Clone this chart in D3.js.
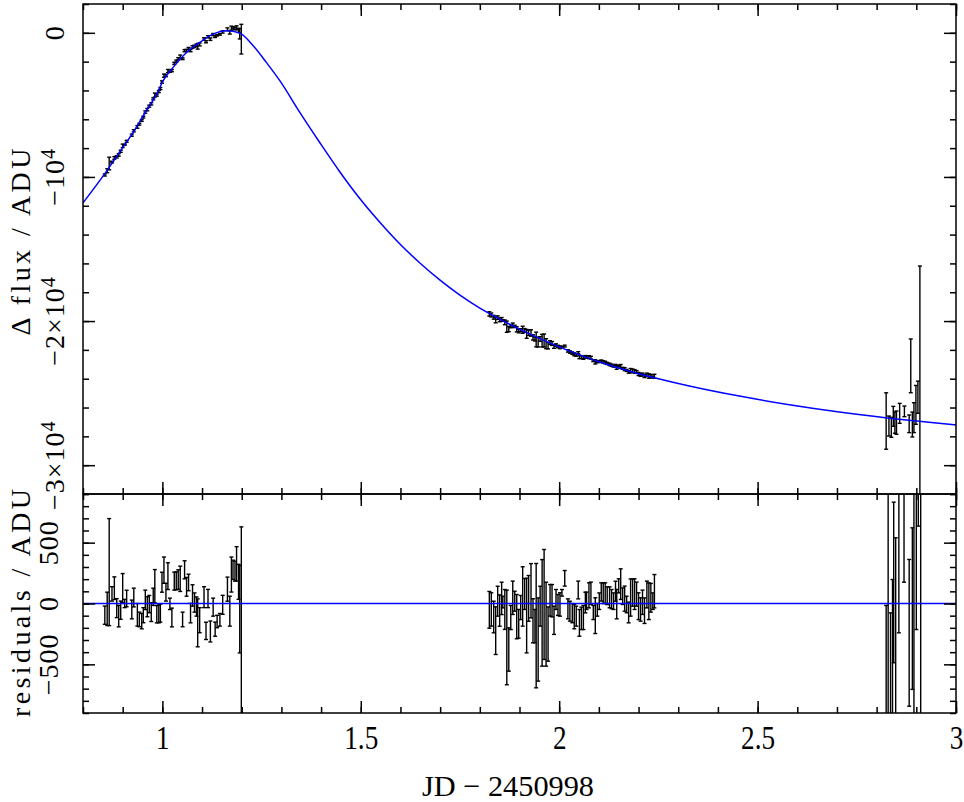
<!DOCTYPE html>
<html>
<head>
<meta charset="utf-8">
<script src="https://d3js.org/d3.v7.min.js"></script>
<style>
  body { margin: 0; background: #fff; }
  svg { display: block; }
</style>
</head>
<body>
<svg id="chart"></svg>
<script>
// Model light curve
const modelJd = [0.8, 0.855, 0.901, 0.927, 0.96, 0.986, 1.002, 1.027, 1.061, 1.094, 1.128, 1.162, 1.195, 1.229, 1.262, 1.296, 1.346, 1.397, 1.447, 1.497, 1.548, 1.598, 1.649, 1.699, 1.749, 1.799, 1.85, 1.9, 1.95, 2.0, 2.05, 2.1, 2.15, 2.2, 2.25, 2.328, 2.454, 2.58, 2.706, 2.831, 2.957, 3.0];
const modelFlux = [-11800, -9767, -7928, -6891, -5391, -4237, -3318, -2398, -1362, -670, -90, 138, -21, -899, -2053, -3318, -5503, -7629, -9638, -11480, -13146, -14636, -15969, -17145, -18184, -19086, -19860, -20560, -21200, -21790, -22330, -22820, -23260, -23650, -24000, -24506, -25207, -25804, -26311, -26736, -27099, -27210];

// First night
const jd1 = [0.855, 0.861, 0.866, 0.873, 0.879, 0.885, 0.890, 0.895, 0.900, 0.905, 0.910, 0.923, 0.928, 0.937, 0.942, 0.948, 0.952, 0.957, 0.962, 0.967, 0.972, 0.977, 0.981, 0.986, 0.991, 0.995, 0.999, 1.004, 1.009, 1.014, 1.019, 1.024, 1.030, 1.035, 1.040, 1.045, 1.051, 1.056, 1.061, 1.066, 1.071, 1.076, 1.081, 1.086, 1.089, 1.094, 1.105, 1.110, 1.115, 1.121, 1.128, 1.133, 1.138, 1.145, 1.152, 1.164, 1.170, 1.174, 1.178, 1.183, 1.187, 1.192, 1.195, 1.199];
const flux1 = [-9863, -9571, -9069, -8968, -8681, -8605, -8471, -8222, -7842, -7768, -7528, -7099, -6797, -6530, -6340, -6081, -5851, -5497, -5329, -5085, -4929, -4581, -4317, -4325, -4075, -3869, -3415, -2970, -2967, -2651, -2695, -2623, -2122, -1964, -1802, -1647, -1798, -1238, -1225, -1084, -1231, -981, -935, -863, -934, -807, -431, -622, -271, -439, -120, -268, -171, -110, 60, 246, 37, 320, 339, 304, 345, 171, -68, -440];
const resid1 = [-96, -44, 258, 79, 126, -38, -104, -55, 126, 0, 41, -49, 49, -93, -131, -145, -96, 30, -27, -5, -71, 55, 142, -88, -85, -79, 175, 274, 93, 225, -3, -115, 184, 186, 197, 203, -131, 277, 137, 173, -79, 66, 8, -25, -159, -137, 52, -225, 41, -230, -30, -211, -148, -134, -11, 118, -63, 238, 277, 266, 326, 178, -47, -400];
const sigma1 = [75, 137, 440, 59, 93, 78, 88, 75, 120, 34, 68, 77, 77, 93, 60, 63, 62, 80, 82, 71, 77, 71, 137, 71, 74, 74, 82, 108, 73, 110, 47, 77, 74, 74, 80, 104, 60, 74, 77, 68, 80, 88, 79, 79, 197, 103, 86, 71, 75, 86, 74, 58, 51, 52, 78, 99, 123, 144, 79, 82, 141, 144, 359, 1030];

// Second night
const jd2 = [1.824, 1.829, 1.835, 1.840, 1.845, 1.850, 1.855, 1.858, 1.863, 1.868, 1.873, 1.878, 1.883, 1.888, 1.893, 1.898, 1.903, 1.908, 1.913, 1.918, 1.923, 1.929, 1.934, 1.939, 1.942, 1.947, 1.952, 1.957, 1.962, 1.967, 1.972, 1.977, 1.982, 1.987, 1.992, 1.997, 2.002, 2.007, 2.014, 2.022, 2.027, 2.033, 2.038, 2.043, 2.048, 2.051, 2.056, 2.061, 2.066, 2.069, 2.075, 2.080, 2.086, 2.091, 2.096, 2.101, 2.106, 2.111, 2.116, 2.121, 2.127, 2.132, 2.137, 2.142, 2.145, 2.150, 2.155, 2.160, 2.165, 2.170, 2.175, 2.180, 2.185, 2.190, 2.195, 2.200, 2.205, 2.210, 2.215, 2.221, 2.226, 2.231, 2.236, 2.240];
const flux2 = [-19506, -19581, -19737, -19927, -19763, -19918, -19888, -19960, -20091, -20391, -20560, -20367, -20275, -20373, -20570, -20699, -20631, -20604, -20648, -20889, -20812, -20826, -21137, -21245, -21280, -21458, -21246, -21360, -21350, -21571, -21711, -21493, -21555, -21775, -21663, -21767, -21820, -21778, -21734, -22072, -22145, -22225, -22308, -22358, -22197, -22499, -22511, -22553, -22479, -22494, -22508, -22540, -22757, -22832, -22833, -22810, -22778, -22832, -22876, -22941, -23007, -23066, -23127, -23089, -23221, -23115, -23140, -23278, -23337, -23424, -23529, -23445, -23443, -23495, -23534, -23672, -23734, -23710, -23814, -23723, -23813, -23820, -23883, -23829];
const resid2 = [-52, -49, -111, -223, 19, -58, 42, 12, -49, -279, -378, -115, 47, 19, -108, -167, -33, 58, 78, -99, 42, 105, -142, -186, -182, -296, -22, -77, -8, -170, -251, 26, 23, -138, 33, -12, -8, 88, 207, -44, -63, -79, -108, -104, 111, -159, -122, -115, 8, 22, 67, 84, -74, -100, -52, 19, 95, 85, 85, 64, 51, 36, 19, 101, -5, 145, 159, 60, 40, -8, -74, 49, 90, 77, 77, -22, -49, 10, -59, 74, 19, 47, 19, 101];
const sigma2 = [151, 137, 130, 196, 123, 129, 133, 48, 164, 389, 178, 99, 137, 82, 182, 118, 99, 244, 127, 307, 188, 223, 181, 137, 511, 342, 164, 438, 452, 345, 223, 130, 133, 116, 82, 86, 96, 27, 64, 82, 82, 79, 100, 82, 73, 110, 92, 99, 85, 71, 103, 92, 58, 147, 52, 68, 75, 85, 85, 73, 86, 79, 68, 82, 121, 58, 126, 68, 103, 68, 85, 153, 112, 126, 99, 110, 96, 100, 105, 110, 151, 118, 68, 137];

// Third night (few, noisy points)
const jd3 = [2.824, 2.831, 2.837, 2.842, 2.846, 2.850, 2.858, 2.870, 2.882, 2.886, 2.890, 2.894, 2.899, 2.904, 2.909];
const flux3 = [-26936, -27282, -27372, -26611, -27047, -27047, -26404, -26266, -27130, -23107, -27178, -26702, -25816, -25284, -24206];
const fluxErr3 = [1958, 691, 691, 691, 737, 806, 691, 369, 611, 1866, 864, 1037, 1348, 1117, 8026];
const jd3r = [2.824, 2.829, 2.835, 2.840, 2.843, 2.848, 2.856, 2.869, 2.882, 2.890, 2.894, 2.900, 2.905, 2.911];
const resid3 = [-1000, 0, -1000, -800, 173, -600, 800, 1000, -241, -42, 0, 900, 1500, 0];
const residErr3 = [984, 1500, 923, 997, 660, 1140, 1041, 825, 603, 664, 2000, 1114, 864, 8000];

// Tick labels
const xTickValues = [1, 1.5, 2, 2.5, 3];
const fluxTickValues = [0, -10000, -20000, -30000];
const fluxTickLabels = [['0', ''], ['\u221210', '4'], ['\u22122\u00d710', '4'], ['\u22123\u00d710', '4']];
const residTickValues = [500, 0, -500];
const residTickLabels = ['500', '0', '\u2212500'];

// Layout
const width = 964;
const height = 802;
const left = 83;
const right = 956;
const top1 = 4;
const bot1 = 494;
const bot2 = 713;
const serif = '"Liberation Serif", "Times New Roman", serif';

const svg = d3.select('#chart')
  .attr('width', width)
  .attr('height', height);

svg.append('rect').attr('width', width).attr('height', height).attr('fill', '#fff');

// Scales
const x = d3.scaleLinear().domain([0.8, 3.0]).range([left, right]);
const yFlux = d3.scaleLinear().domain([-32000, 2000]).range([bot1, top1]);
const yRes = d3.scaleLinear().domain([-900, 900]).range([bot2, bot1]);

const defs = svg.append('defs');
defs.append('clipPath').attr('id', 'clipTop')
  .append('rect').attr('x', left).attr('y', top1).attr('width', right - left).attr('height', bot1 - top1);
defs.append('clipPath').attr('id', 'clipBot')
  .append('rect').attr('x', left).attr('y', bot1).attr('width', right - left).attr('height', bot2 - bot1);

function zipPoints(xs, ys, es) {
  return xs.map((d, i) => ({ x: d, y: ys[i], e: es[i] }));
}

const fluxPoints = [].concat(
  zipPoints(jd1, flux1, sigma1),
  zipPoints(jd2, flux2, sigma2),
  zipPoints(jd3, flux3, fluxErr3)
);
const residPoints = [].concat(
  zipPoints(jd1, resid1, sigma1),
  zipPoints(jd2, resid2, sigma2),
  zipPoints(jd3r, resid3, residErr3)
);

function drawErrorBars(g, points, yScale) {
  const bars = g.selectAll('g.eb')
    .data(points)
    .enter()
    .append('g')
    .attr('class', 'eb')
    .attr('stroke', '#000')
    .attr('stroke-width', 1.4);

  bars.append('line')
    .attr('x1', d => x(d.x)).attr('x2', d => x(d.x))
    .attr('y1', d => yScale(d.y - d.e)).attr('y2', d => yScale(d.y + d.e));
  bars.append('line')
    .attr('x1', d => x(d.x) - 2).attr('x2', d => x(d.x) + 2)
    .attr('y1', d => yScale(d.y + d.e)).attr('y2', d => yScale(d.y + d.e));
  bars.append('line')
    .attr('x1', d => x(d.x) - 2).attr('x2', d => x(d.x) + 2)
    .attr('y1', d => yScale(d.y - d.e)).attr('y2', d => yScale(d.y - d.e));
}

// Top panel: data + model
const topG = svg.append('g').attr('clip-path', 'url(#clipTop)');
drawErrorBars(topG, fluxPoints, yFlux);

const model = modelJd.map((d, i) => ({ x: d, y: modelFlux[i] }));
topG.append('path')
  .datum(model)
  .attr('fill', 'none')
  .attr('stroke', '#0000ff')
  .attr('stroke-width', 1.5)
  .attr('d', d3.line().x(d => x(d.x)).y(d => yFlux(d.y)).curve(d3.curveMonotoneX));

// Bottom panel: residuals
const botG = svg.append('g').attr('clip-path', 'url(#clipBot)');
drawErrorBars(botG, residPoints, yRes);
botG.append('line')
  .attr('x1', x(0.8)).attr('x2', x(3.0))
  .attr('y1', yRes(0)).attr('y2', yRes(0))
  .attr('stroke', '#0000ff')
  .attr('stroke-width', 1.5);

// Ticks on all four sides of a panel
function panelTicks(yScale, yTop, yBot, yMinor, yMajor) {
  const xMinor = d3.range(8, 31).map(i => i / 10);
  const specs = [
    [d3.axisBottom(x).tickValues(xMinor).tickSize(-6), `translate(0,${yBot})`],
    [d3.axisBottom(x).tickValues(xTickValues).tickSize(-12), `translate(0,${yBot})`],
    [d3.axisTop(x).tickValues(xMinor).tickSize(-6), `translate(0,${yTop})`],
    [d3.axisTop(x).tickValues(xTickValues).tickSize(-12), `translate(0,${yTop})`],
    [d3.axisLeft(yScale).tickValues(yMinor).tickSize(-6), `translate(${left},0)`],
    [d3.axisLeft(yScale).tickValues(yMajor).tickSize(-12), `translate(${left},0)`],
    [d3.axisRight(yScale).tickValues(yMinor).tickSize(-6), `translate(${right},0)`],
    [d3.axisRight(yScale).tickValues(yMajor).tickSize(-12), `translate(${right},0)`]
  ];
  specs.forEach(([axis, tr]) => {
    const g = svg.append('g')
      .attr('transform', tr)
      .call(axis.tickFormat(''));
    g.select('.domain').remove();
    g.selectAll('line').attr('stroke', '#000').attr('stroke-width', 1.5);
  });

  svg.append('rect')
    .attr('x', left).attr('y', yTop)
    .attr('width', right - left).attr('height', yBot - yTop)
    .attr('fill', 'none')
    .attr('stroke', '#000')
    .attr('stroke-width', 1.5);
}

panelTicks(yFlux, top1, bot1, d3.range(-32000, 2001, 2000), fluxTickValues);
panelTicks(yRes, bot1, bot2, d3.range(-900, 901, 100), residTickValues);

// X tick labels
const xLab = svg.append('g')
  .attr('transform', `translate(0,${bot2})`)
  .call(d3.axisBottom(x).tickValues(xTickValues).tickSize(0).tickPadding(12).tickFormat(d3.format('')));
xLab.select('.domain').remove();
xLab.selectAll('text')
  .attr('font-family', serif)
  .attr('font-size', 34)
  .attr('fill', '#000')
  .attr('transform', 'scale(0.8,1)');

// Y tick labels, rotated
fluxTickValues.forEach((v, i) => {
  const t = svg.append('text')
    .attr('transform', `translate(64,${yFlux(v)}) rotate(-90)`)
    .attr('text-anchor', 'middle')
    .attr('font-family', serif)
    .attr('font-size', 28)
    .attr('letter-spacing', 1)
    .attr('fill', '#000');
  t.append('tspan').text(fluxTickLabels[i][0]);
  if (fluxTickLabels[i][1]) {
    t.append('tspan').attr('dy', '-0.45em').attr('font-size', 20).text(fluxTickLabels[i][1]);
  }
});

residTickValues.forEach((v, i) => {
  svg.append('text')
    .attr('transform', `translate(58,${yRes(v)}) rotate(-90)`)
    .attr('text-anchor', 'middle')
    .attr('font-family', serif)
    .attr('font-size', 28)
    .attr('letter-spacing', 1)
    .attr('fill', '#000')
    .text(residTickLabels[i]);
});

// Axis titles
svg.append('text')
  .attr('transform', 'translate(30,242) rotate(-90)')
  .attr('text-anchor', 'middle')
  .attr('font-family', serif)
  .attr('font-size', 28)
  .attr('textLength', 187)
  .attr('lengthAdjust', 'spacing')
  .attr('fill', '#000')
  .text('\u0394 flux / ADU');

svg.append('text')
  .attr('transform', 'translate(30,603) rotate(-90)')
  .attr('text-anchor', 'middle')
  .attr('font-family', serif)
  .attr('font-size', 28)
  .attr('textLength', 228)
  .attr('lengthAdjust', 'spacing')
  .attr('fill', '#000')
  .text('residuals / ADU');

svg.append('text')
  .attr('transform', 'translate(508,796)')
  .attr('text-anchor', 'middle')
  .attr('font-family', serif)
  .attr('font-size', 30)
  .attr('textLength', 172)
  .attr('lengthAdjust', 'spacingAndGlyphs')
  .attr('fill', '#000')
  .text('JD \u2212 2450998');
</script>
</body>
</html>
